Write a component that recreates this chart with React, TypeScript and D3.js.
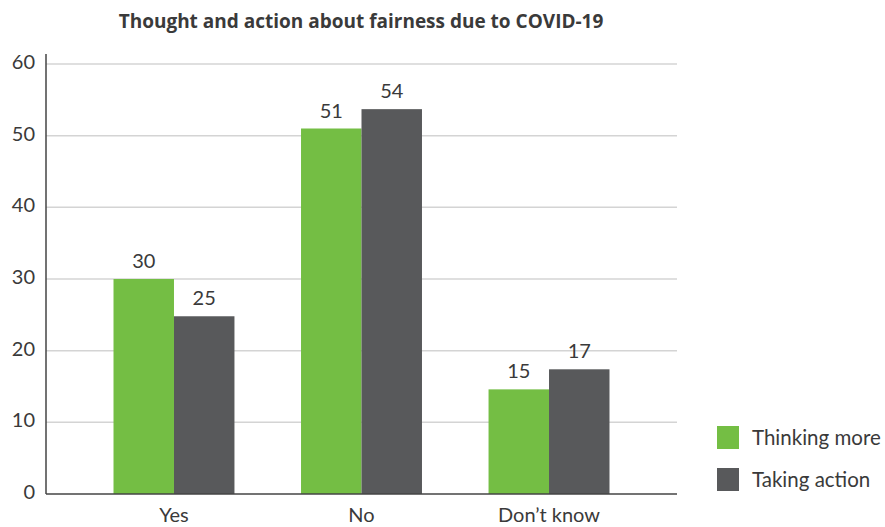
import React from "react";
import * as d3 from "d3";

const categories = ["Yes", "No", "Don\u2019t know"];
const seriesNames = ["Thinking more", "Taking action"];
const thinkingMore = [30, 51, 14.6];
const takingAction = [24.8, 53.7, 17.4];
const valueLabels = [
  ["30", "51", "15"],
  ["25", "54", "17"],
];
const yTicks = [0, 10, 20, 30, 40, 50, 60];
const colors = ["#74be44", "#58595b"];

const W = 885;
const H = 527;
const FONT = "Lato, 'Open Sans', sans-serif";

export default function App() {
  const x = d3
    .scaleBand<string>()
    .domain(categories)
    .range([46, 677])
    .paddingInner(0.355)
    .paddingOuter(0.36);
  const x1 = d3
    .scaleBand<number>()
    .domain([0, 1])
    .range([0, x.bandwidth()]);
  const y = d3.scaleLinear().domain([0, 60]).range([494, 64]);
  const series = [thinkingMore, takingAction];

  return (
    <svg
      width={W}
      height={H}
      style={{ position: "absolute", left: 0, top: 0 }}
      fontFamily={FONT}
    >
      <text
        x={361}
        y={28}
        textAnchor="middle"
        fontSize={19}
        fontWeight={700}
        fontFamily="'Open Sans', sans-serif"
        fill="#3a3a3a"
      >
        Thought and action about fairness due to COVID-19
      </text>
      {yTicks.map((t) => (
        <g key={t}>
          {t > 0 && (
            <line
              x1={46}
              x2={677}
              y1={y(t)}
              y2={y(t)}
              stroke="#d4d4d4"
              strokeWidth={1.5}
            />
          )}
          <text
            x={35}
            y={y(t)}
            dy="0.25em"
            textAnchor="end"
            fontSize={20}
            fill="#3a3a3a"
          >
            {t}
          </text>
        </g>
      ))}
      {series.map((vals, si) =>
        vals.map((v, ci) => {
          const bx = (x(categories[ci]) as number) + (x1(si) as number);
          return (
            <g key={`${si}-${ci}`}>
              <rect
                x={bx}
                y={y(v)}
                width={x1.bandwidth()}
                height={y(0) - y(v)}
                fill={colors[si]}
              />
              <text
                x={bx + x1.bandwidth() / 2}
                y={y(v) - 11}
                textAnchor="middle"
                fontSize={20}
                fill="#3a3a3a"
              >
                {valueLabels[si][ci]}
              </text>
            </g>
          );
        })
      )}
      <line x1={46} x2={46} y1={54} y2={494} stroke="#444" strokeWidth={1.5} />
      <line x1={46} x2={677} y1={494} y2={494} stroke="#444" strokeWidth={1.5} />
      {categories.map((c) => (
        <text
          key={c}
          x={(x(c) as number) + x.bandwidth() / 2}
          y={522}
          textAnchor="middle"
          fontSize={20}
          fill="#3a3a3a"
        >
          {c}
        </text>
      ))}
      {seriesNames.map((s, i) => (
        <g key={s} transform={`translate(717, ${426 + i * 42})`}>
          <rect width={22} height={23} fill={colors[i]} />
          <text x={35} y={19} fontSize={20.5} fill="#3a3a3a">
            {s}
          </text>
        </g>
      ))}
    </svg>
  );
}
